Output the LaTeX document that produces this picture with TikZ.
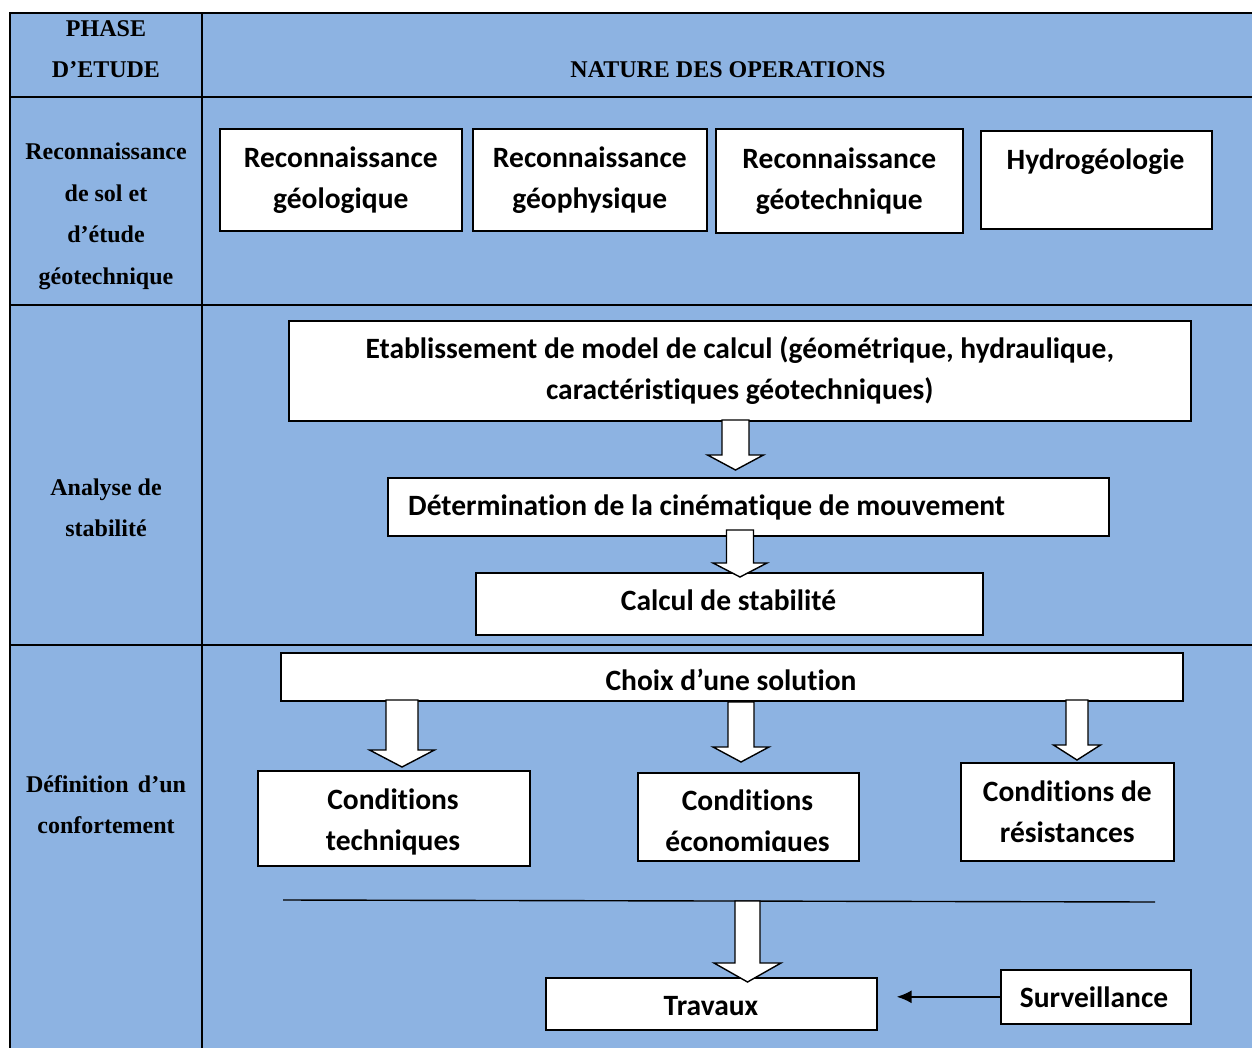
\documentclass[tikz,border=0pt]{standalone}
\usepackage{fontspec}
\setmainfont{Liberation Serif}
\newfontfamily\boxfont[Ligatures=NoCommon]{Carlito}
\usetikzlibrary{arrows.meta}
\definecolor{cellblue}{RGB}{141,179,226}

% hollow block arrow: #1 centre x, #2 top y, #3 tip y, #4 shaft width, #5 head width, #6 head length
\newcommand\blockarrow[6]{%
  \draw[blockarrow] (#1-#4/2,#2) -- (#1-#4/2,#3-#6) -- (#1-#5/2,#3-#6) -- (#1,#3)
    -- (#1+#5/2,#3-#6) -- (#1+#4/2,#3-#6) -- (#1+#4/2,#2) -- cycle;}

\tikzset{
  grid/.style={line width=2pt},
  box/.style={draw=black, fill=white, line width=1.6pt, anchor=north west,
    inner sep=0pt, align=center, font=\boxfont\bfseries\fontsize{29.5}{41}\selectfont},
  boxtext/.style={inner sep=0pt, align=center, font=\boxfont\bfseries\fontsize{29.5}{41}\selectfont},
  phase/.style={inner sep=0pt, align=center, font=\bfseries\fontsize{24}{41.5}\selectfont},
  blockarrow/.style={draw=black, fill=white, line width=1.4pt, line join=miter},
  thinline/.style={line width=1.4pt},
  arr/.style={line width=2pt, -{Latex[length=15pt,width=13pt]}},
}

\begin{document}
\begin{tikzpicture}[x=1pt, y=-1pt]
\useasboundingbox (0,0) rectangle (1252,1048);

% table background and rules
\fill[cellblue] (10,13) rectangle (1252,1048);
\draw[grid] (1252,13) -- (10,13) -- (10,1048);
\draw[grid] (202,13) -- (202,1048);
\draw[grid] (10,97) -- (1252,97);
\draw[grid] (10,305) -- (1252,305);
\draw[grid] (10,645) -- (1252,645);

% header row
\node[phase] (phasehdr) at (106,49) {PHASE\\D’ETUDE};
\node[phase] (naturehdr) at (728,70) {NATURE DES OPERATIONS};

% phase column
\node[phase] (ph1) at (106,216.5) {Reconnaissance\\de sol et\\d’étude\\géotechnique};
\node[phase] (ph2) at (106,508) {Analyse de\\stabilité};
\node[phase] (ph3) at (106,804.5) {\makebox[160pt][s]{Définition d’un}\\confortement};

% reconnaissance row
\node[box, minimum width=242pt, minimum height=102pt] (geol) at (219,128) {Reconnaissance\\géologique};
\node[box, minimum width=234pt, minimum height=102pt] (geoph) at (472,128) {Reconnaissance\\géophysique};
\node[box, minimum width=247pt, minimum height=104pt] (geot) at (715,128) {Reconnaissance\\géotechnique};
\node[box, minimum width=231pt, minimum height=98pt] (hydro) at (980,130) {};
\node[boxtext, anchor=base] (hydrotxt) at (1095.5,170) {Hydrogéologie};

% stability analysis
\node[box, minimum width=902pt, minimum height=100pt] (etab) at (288,320)
  {Etablissement de model de calcul (géométrique, hydraulique,\\caractéristiques géotechniques)};
\node[box, minimum width=721pt, minimum height=58pt] (determ) at (387,477) {};
\node[boxtext, anchor=base west] (determtxt) at (408,515) {Détermination de la cinématique de mouvement};
\node[box, minimum width=507pt, minimum height=62pt] (calc) at (475,572) {};
\node[boxtext, anchor=base] (calctxt) at (728.5,610) {Calcul de stabilité};

% reinforcement
\node[box, minimum width=902pt, minimum height=48pt] (choix) at (280,652) {};
\node[boxtext, anchor=base] (choixtxt) at (731,690) {Choix d’une solution};
\node[box, minimum width=272pt, minimum height=95pt] (ctech) at (257,770) {};
\node[boxtext] (ctechtxt) at (393,822) {Conditions\\techniques};
\node[box, minimum width=221pt, minimum height=88pt] (ceco) at (637,772) {};
\begin{scope}
  \clip (637,772) rectangle (858,851);
  \node[boxtext] (cecotxt) at (747.5,823) {Conditions\\économiques};
\end{scope}
\node[box, minimum width=213pt, minimum height=98pt] (cres) at (960,762) {Conditions de\\résistances};

\coordinate (lineL) at (283,900);
\coordinate (lineR) at (1155,902);
\draw[thinline] (lineL) -- (lineR);

\node[box, minimum width=331pt, minimum height=52pt] (trav) at (545,977) {};
\node[boxtext, anchor=base] (travtxt) at (711,1015) {Travaux};
\node[box, minimum width=190pt, minimum height=54pt] (surv) at (1000,969) {};
\node[boxtext, anchor=base] (survtxt) at (1094,1007) {Surveillance};

% flow arrows
\blockarrow{735.5}{420}{470}{27}{56}{15}
\blockarrow{740}{530}{577}{27}{54}{14}
\blockarrow{402}{700}{767}{32}{65}{17}
\blockarrow{741}{702}{762}{26}{56}{15}
\blockarrow{1077}{700}{760}{22}{47}{15}
\blockarrow{747.5}{901}{982}{25}{67}{19}
\draw[arr] (surv.west) -- ([xshift=19pt]trav.east |- surv.west);
\end{tikzpicture}
\end{document}
